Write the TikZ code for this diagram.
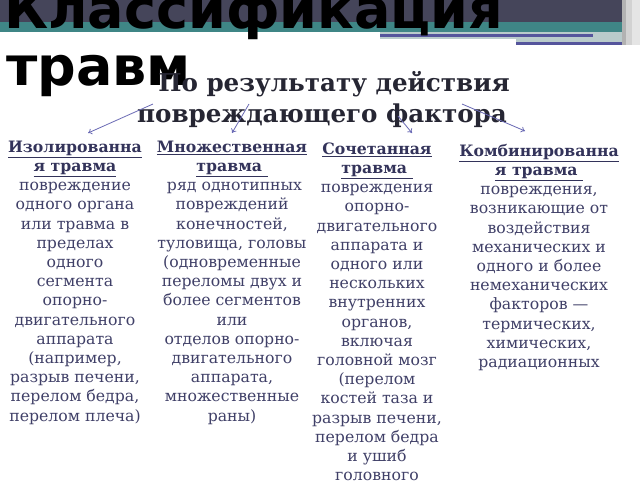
\documentclass[tikz,border=0pt]{standalone}
\usepackage{fontspec}
\setmainfont{DejaVu Serif}
\newfontfamily\titlefont{DejaVu Sans}
\usetikzlibrary{arrows.meta}
\definecolor{darkband}{HTML}{45455A}
\definecolor{tealband}{HTML}{3F8686}
\definecolor{lightband}{HTML}{B9CBCB}
\definecolor{purpleline}{HTML}{55559C}
\definecolor{bodytext}{HTML}{404068}
\definecolor{headtext}{HTML}{33335A}
\definecolor{maintext}{HTML}{262633}
\definecolor{arrowc}{HTML}{6A6AB5}
\tikzset{
  coltext/.style={anchor=north, align=center, inner sep=0pt, text=bodytext,
    font=\fontsize{15.7}{19.2}\selectfont},
  headline/.style={anchor=base, inner sep=0pt, text=maintext,
    font=\bfseries\fontsize{24.6}{28}\selectfont},
  conn/.style={draw=arrowc, line width=0.8pt, -{To[length=4pt,width=6pt]}}
}
\newcommand{\ctitle}[1]{\textbf{\textcolor{headtext}{\underline{#1}}}}
\newcommand{\firstrule}{\rule{0pt}{14pt}}
\begin{document}
\begin{tikzpicture}[x=1pt,y=-1pt]
\useasboundingbox (0,0) rectangle (640,480);
\fill[white] (0,0) rectangle (640,480);
% header decoration
\fill[darkband] (0,0) rectangle (640,22);
\fill[tealband] (0,22) rectangle (626,32);
\fill[lightband] (380,32) rectangle (640,39);
\fill[lightband] (516,39) rectangle (640,45);
\fill[purpleline] (380,33.5) rectangle (593,36.5);
\fill[purpleline] (516,41.5) rectangle (629,44.5);
\fill[gray!60] (622,0) rectangle (626,45);
\fill[gray!35] (626,0) rectangle (632,45);
\fill[gray!20] (632,0) rectangle (640,45);
% title
\node[anchor=base west, inner sep=0pt, font=\titlefont\bfseries\fontsize{54}{57}\selectfont] (t1) at (4,28) {Классификация};
\node[anchor=base west, inner sep=0pt, font=\titlefont\bfseries\fontsize{54}{57}\selectfont] (t2) at (6,85) {травм};
% heading
\node[headline] (h1) at (334,91) {По результату действия};
\node[headline] (h2) at (322,122) {повреждающего фактора};
% columns
\node[coltext] (c1) at (75,138) {\firstrule\ctitle{Изолированна}\\\ctitle{я травма}\\
повреждение\\одного органа\\или травма в\\пределах\\одного\\сегмента\\опорно-\\двигательного\\аппарата\\(например,\\разрыв печени,\\перелом бедра,\\перелом плеча)};
\node[coltext] (c2) at (232,138) {\firstrule\ctitle{Множественная}\\\ctitle{травма\ }\\
\ ряд однотипных\\повреждений\\конечностей,\\туловища, головы\\(одновременные\\переломы двух и\\более сегментов\\или\\отделов опорно-\\двигательного\\аппарата,\\множественные\\раны)};
\node[coltext] (c3) at (377,140) {\firstrule\ctitle{Сочетанная}\\\ctitle{травма\ }\\
повреждения\\опорно-\\двигательного\\аппарата и\\одного или\\нескольких\\внутренних\\органов,\\включая\\головной мозг\\(перелом\\костей таза и\\разрыв печени,\\перелом бедра\\и ушиб\\головного};
\node[coltext] (c4) at (539,142) {\firstrule\ctitle{Комбинированна}\\\ctitle{я травма\ }\\
повреждения,\\возникающие от\\воздействия\\механических и\\одного и более\\немеханических\\факторов —\\термических,\\химических,\\радиационных};
% connectors
\coordinate (a1s) at (153,104); \coordinate (a1e) at (88,133);
\coordinate (a2s) at (249,104); \coordinate (a2e) at (232,133);
\coordinate (a3s) at (398,116); \coordinate (a3e) at (412,133);
\coordinate (a4s) at (462,104); \coordinate (a4e) at (525,131);
\draw[conn] (a1s) -- (a1e);
\draw[conn] (a2s) -- (a2e);
\draw[conn] (a3s) -- (a3e);
\draw[conn] (a4s) -- (a4e);
\end{tikzpicture}
\end{document}
